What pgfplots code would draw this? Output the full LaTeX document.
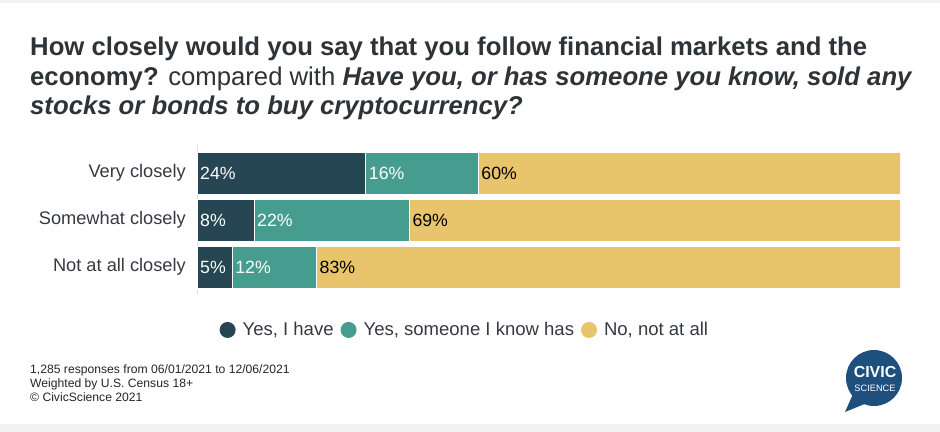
\documentclass[border=0pt]{standalone}
\usepackage{fontspec}
\setmainfont{Liberation Sans}
\usepackage{pgfplots}
\pgfplotsset{compat=1.18}
\usepackage{pgfplotstable}
\definecolor{cDark}{HTML}{264653}
\definecolor{cTeal}{HTML}{469D8F}
\definecolor{cGold}{HTML}{E8C46C}
\definecolor{cTitle}{HTML}{2E3338}
\definecolor{cText}{HTML}{353A42}
\definecolor{cLogo}{HTML}{1F4F7D}
\definecolor{cBand}{HTML}{F2F2F2}

% y: 2 = Very closely, 1 = Somewhat closely, 0 = Not at all closely
\pgfplotstableread{
y a b c la lb lc sa sb sc
2 24 16 60 24 16 60 0 24 40
1 8.1 22.1 69.8 8 22 69 0 8.1 30.2
0 5 12 83 5 12 83 0 5 17
}\datatable

\begin{document}
\begin{tikzpicture}
\fill[white] (0,0) rectangle (940bp,-432bp);
\fill[cBand] (0,0) rectangle (940bp,-3bp);
\fill[cBand] (0,-424bp) rectangle (940bp,-432bp);
\useasboundingbox (0,0) rectangle (940bp,-432bp);

% title
\node[anchor=base west, inner sep=0, text=cTitle, font=\bfseries\fontsize{25.8}{28}\selectfont] at (30bp,-55bp)
  {How closely would you say that you follow financial markets and the};
\node[anchor=base west, inner sep=0, text=cTitle, font=\fontsize{25.8}{28}\selectfont] at (30bp,-85bp)
  {{\bfseries economy?} compared with {\bfseries\itshape Have you, or has someone you know, sold any}};
\node[anchor=base west, inner sep=0, text=cTitle, font=\bfseries\itshape\fontsize{25.8}{28}\selectfont] at (30bp,-114bp)
  {stocks or bonds to buy cryptocurrency?};

\begin{axis}[
  at={(197bp,-220bp)}, anchor=west,
  scale only axis, width=703bp, height=150.4bp,
  xbar stacked, bar width=41.5bp,
  xmin=0, xmax=100, ymin=-0.6, ymax=2.6,
  axis x line=none, axis y line*=left,
  y axis line style={draw=black!12, -},
  ytick={0,1,2},
  yticklabels={Not at all closely, Somewhat closely, Very closely},
  major tick length=0pt,
  yticklabel style={font=\fontsize{18.3}{20}\selectfont, text=cText, inner sep=0pt, xshift=-11bp},
  legend columns=3,
  legend style={at={(0.381,-0.231)}, anchor=center, draw=none, fill=none,
    font=\fontsize{18.6}{20}\selectfont, text=cText,
    /tikz/every odd column/.append style={column sep=5bp},
    /tikz/every even column/.append style={column sep=5bp}},
  legend image code/.code={\fill[#1, draw=none] (4bp,0bp) circle (8bp);},
]
\addplot[fill=cDark, draw=white, line width=0.5bp] table[x=a, y=y] {\datatable};
\addplot[fill=cTeal, draw=white, line width=0.5bp] table[x=b, y=y] {\datatable};
\addplot[fill=cGold, draw=white, line width=0.5bp] table[x=c, y=y] {\datatable};
\legend{Yes{,} I have, Yes{,} someone I know has, No{,} not at all}
\end{axis}

\begin{axis}[
  at={(197bp,-220bp)}, anchor=west,
  scale only axis, width=703bp, height=150.4bp,
  xmin=0, xmax=100, ymin=-0.6, ymax=2.6,
  hide axis,
  /pgf/number format/assume math mode=true,
  point meta=explicit,
  nodes near coords={\pgfmathprintnumber{\pgfplotspointmeta}\%},
  every node near coord/.append style={anchor=west, inner sep=0pt, xshift=3bp,
    font=\fontsize{17.8}{20}\selectfont},
]
\addplot[draw=none, mark=none, every node near coord/.append style={text=white}] table[x=sa, y=y, meta=la] {\datatable};
\addplot[draw=none, mark=none, every node near coord/.append style={text=white}] table[x=sb, y=y, meta=lb] {\datatable};
\addplot[draw=none, mark=none, every node near coord/.append style={text=black}] table[x=sc, y=y, meta=lc] {\datatable};
\end{axis}

% footnote
\node[anchor=base west, inner sep=0, text=black!85, font=\fontsize{12.2}{14}\selectfont] at (30bp,-373bp)
  {1,285 responses from 06/01/2021 to 12/06/2021};
\node[anchor=base west, inner sep=0, text=black!85, font=\fontsize{12.2}{14}\selectfont] at (30bp,-387bp)
  {Weighted by U.S. Census 18+};
\node[anchor=base west, inner sep=0, text=black!85, font=\fontsize{12.2}{14}\selectfont] at (30bp,-401bp)
  {© CivicScience 2021};

% logo
\fill[cLogo] (874bp,-378bp) circle (28bp);
\fill[cLogo] (853bp,-394bp) -- (845bp,-412bp) -- (867bp,-403bp) -- cycle;
\node[text=white, inner sep=0, font=\bfseries\fontsize{16}{16}\selectfont] at (875bp,-372bp) {CIVIC};
\node[text=white, inner sep=0, font=\fontsize{9.3}{10}\selectfont] at (875bp,-388bp) {SCIENCE};
\end{tikzpicture}
\end{document}
